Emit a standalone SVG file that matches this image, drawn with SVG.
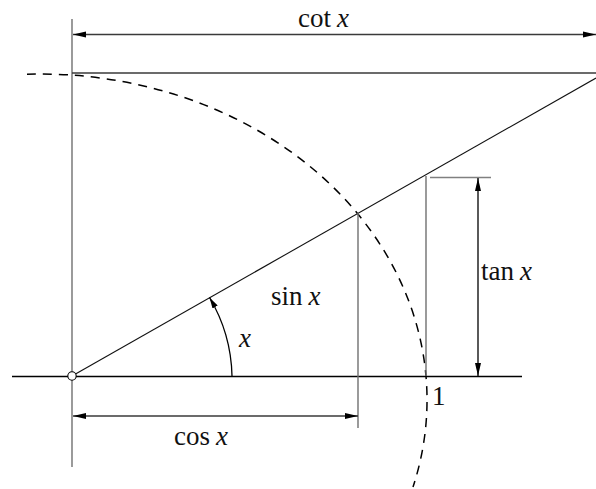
<svg xmlns="http://www.w3.org/2000/svg" width="596" height="489" viewBox="0 0 596 489">
<style>
.ln{fill:none;stroke-linecap:butt}
.blk{stroke:#000;stroke-width:1.3}
.thin{stroke:#111;stroke-width:1.1}
.gry{stroke:#707070;stroke-width:1.4}
.dk{stroke:#3a3a3a;stroke-width:1.6}
.it{font-style:italic}
</style>
<defs>
<marker id="ah" markerWidth="13" markerHeight="7" refX="13" refY="3.5" orient="auto-start-reverse" markerUnits="userSpaceOnUse">
<path d="M0,0.5 L13,3.5 L0,6.5 z" fill="#000"/>
</marker>
<marker id="ahs" markerWidth="11" markerHeight="6" refX="11" refY="3" orient="auto" markerUnits="userSpaceOnUse">
<path d="M0,0 L11,3 L0,6 z" fill="#000"/>
</marker>
</defs>
<g id="figure">
<line class="ln gry" x1="72" y1="19" x2="72" y2="467"/>
<line class="ln blk" x1="12" y1="376.5" x2="522" y2="376.5"/>
<line class="ln dk" x1="72" y1="73" x2="596" y2="73"/>
<path class="ln" d="M27,74.2 A387,326 0 0 1 413,487" stroke="#000" stroke-width="1.5" stroke-dasharray="9 7"/>
<line class="ln thin" x1="72" y1="376" x2="596" y2="78"/>
<line class="ln gry" x1="358" y1="213" x2="358" y2="428"/>
<line class="ln gry" x1="426" y1="176" x2="426" y2="376"/>
<line class="ln" x1="430" y1="177.5" x2="491" y2="177.5" stroke="#808080" stroke-width="1.5"/>
<circle cx="72" cy="376" r="4.2" fill="#fff" stroke="#000" stroke-width="1.1"/>
</g>
<g id="connectors">
<line class="ln dk" x1="73" y1="34.5" x2="596" y2="34.5" marker-start="url(#ah)" marker-end="url(#ah)"/>
<line class="ln blk" x1="478" y1="178" x2="478" y2="376" marker-start="url(#ah)" marker-end="url(#ah)"/>
<line class="ln dk" x1="73" y1="416" x2="358" y2="416" marker-start="url(#ah)" marker-end="url(#ah)"/>
<path class="ln blk" d="M232,376 A160,160 0 0 0 209.5,297.5" marker-end="url(#ahs)"/>
</g>
<g id="labels" font-family="'Liberation Serif', 'DejaVu Serif', serif" font-size="27" fill="#111">
<text x="298" y="27">cot<tspan class="it" dx="6">x</tspan></text>
<text x="271" y="305">sin<tspan class="it" dx="6">x</tspan></text>
<text x="174" y="445">cos<tspan class="it" dx="6">x</tspan></text>
<text x="481" y="280">tan<tspan class="it" dx="6">x</tspan></text>
<text class="it" x="239" y="347">x</text>
<text x="432" y="405">1</text>
</g>
</svg>
